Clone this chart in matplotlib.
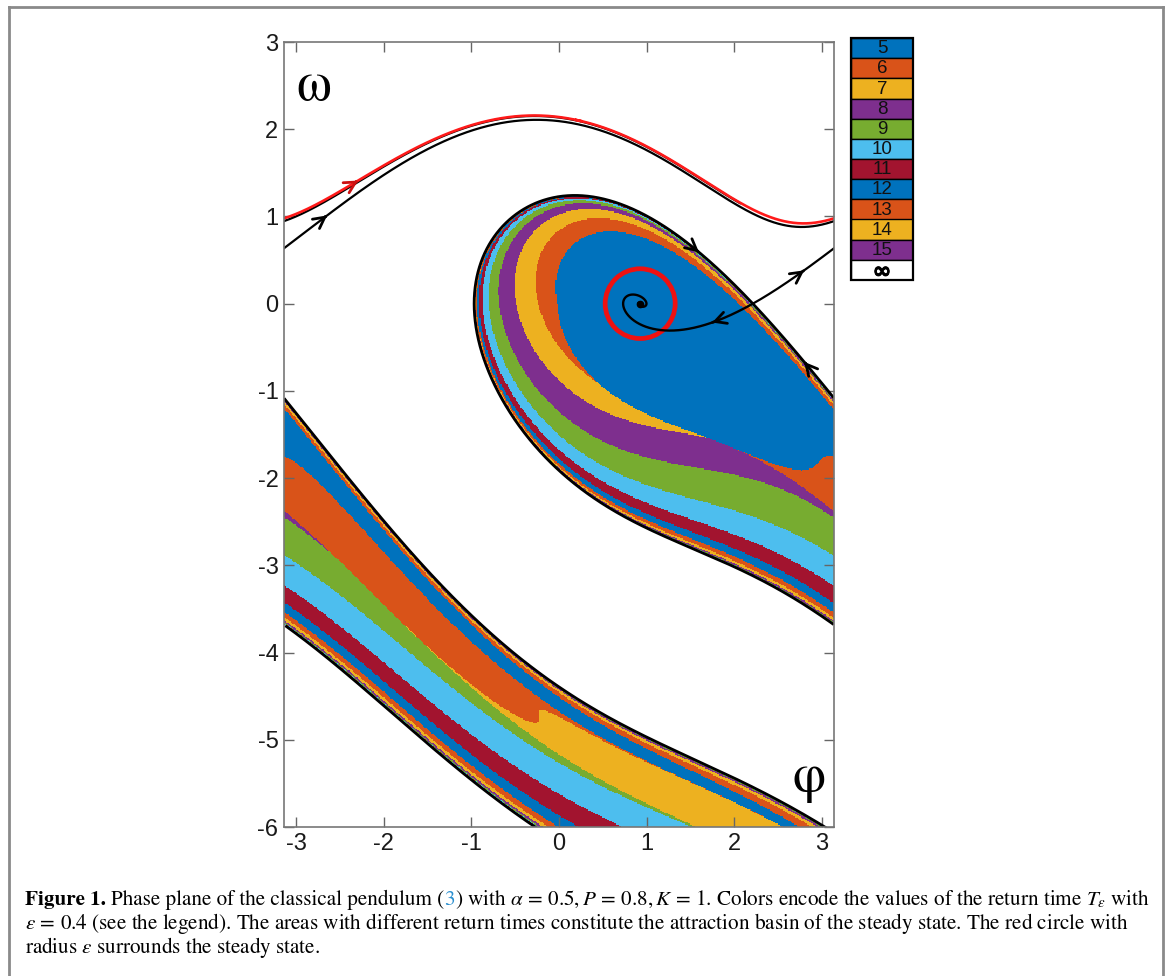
import numpy as np
import matplotlib
matplotlib.use("Agg")
import matplotlib.pyplot as plt
import matplotlib.patheffects as pe
from matplotlib.colors import ListedColormap
from matplotlib.patches import Rectangle
from matplotlib.lines import Line2D

# ---------------- data / parameters ----------------
ALPHA = 0.5          # damping
P_TORQUE = 0.8       # constant torque P
K_COUP = 1.0         # K
EPS = 0.4            # radius of the return circle
T_LABELS = ["5", "6", "7", "8", "9", "10", "11", "12", "13", "14", "15", "\u221e"]
T_FIRST = 5
T_MAX = 30.0
BASE_COLORS = ["#0072BD", "#D95319", "#EDB120", "#7E2F8E", "#77AC30", "#4DBEEE", "#A2142F"]
LEGEND_COLORS = [BASE_COLORS[i % 7] for i in range(len(T_LABELS) - 1)] + ["#FFFFFF"]
X_TICKS = [-3, -2, -1, 0, 1, 2, 3]
Y_TICKS = [-6, -5, -4, -3, -2, -1, 0, 1, 2, 3]
X_LIM = (-np.pi, np.pi)
Y_LIM = (-6.0, 3.0)

PHI_S = np.arcsin(P_TORQUE / K_COUP)       # steady state
PHI_SAD = np.pi - PHI_S                    # saddle


def rhs(ph, om):
    return om, P_TORQUE - ALPHA * om - K_COUP * np.sin(ph)


def rk4(ph, om, dt):
    k1p, k1o = rhs(ph, om)
    k2p, k2o = rhs(ph + 0.5 * dt * k1p, om + 0.5 * dt * k1o)
    k3p, k3o = rhs(ph + 0.5 * dt * k2p, om + 0.5 * dt * k2o)
    k4p, k4o = rhs(ph + dt * k3p, om + dt * k3o)
    return (ph + dt / 6 * (k1p + 2 * k2p + 2 * k3p + k4p),
            om + dt / 6 * (k1o + 2 * k2o + 2 * k3o + k4o))


def wrapd(x):
    return (x + np.pi) % (2 * np.pi) - np.pi


# ---------------- return-time field ----------------
NX, NY = 470, 672
xs = np.linspace(X_LIM[0], X_LIM[1], NX)
ys = np.linspace(Y_LIM[0], Y_LIM[1], NY)
PH, OM = np.meshgrid(xs, ys)
ph = PH.ravel().copy()
om = OM.ravel().copy()
idx = np.arange(ph.size)
T = np.full(ph.size, np.inf)
dt = 0.05
t = 0.0
eps2 = EPS ** 2
while t <= T_MAX and idx.size:
    d2 = wrapd(ph - PHI_S) ** 2 + om ** 2
    done = d2 < eps2
    if done.any():
        T[idx[done]] = t
        keep = ~done
        idx, ph, om = idx[keep], ph[keep], om[keep]
    ph, om = rk4(ph, om, dt)
    t += dt

cat = np.full(T.size, 7, dtype=int)
fin = np.isfinite(T)
k = np.maximum(T_FIRST, np.ceil(T[fin] - 1e-9)).astype(int)
cat[fin] = (k - T_FIRST) % 7
cat = cat.reshape(PH.shape)
cmap = ListedColormap(BASE_COLORS + ["#FFFFFF"])


# ---------------- invariant curves ----------------
def path(p0, w0, dt, n, ylow=None):
    p = np.empty(n + 1); w = np.empty(n + 1)
    p[0], w[0] = p0, w0
    a, b = p0, w0
    m = n
    for i in range(n):
        a, b = rk4(a, b, dt)
        p[i + 1], w[i + 1] = a, b
        if ylow is not None and b < ylow:
            m = i + 1
            break
    return p[:m + 1], w[:m + 1]


def broken(p, w):
    pw = wrapd(p)
    jumps = np.where(np.abs(np.diff(pw)) > np.pi)[0]
    pw2 = np.insert(pw, jumps + 1, np.nan)
    w2 = np.insert(w, jumps + 1, np.nan)
    return pw2, w2


cs = -K_COUP * np.cos(PHI_SAD)
lam_u = (-ALPHA + np.sqrt(ALPHA ** 2 + 4 * cs)) / 2
lam_s = (-ALPHA - np.sqrt(ALPHA ** 2 + 4 * cs)) / 2
vu = np.array([1, lam_u]) / np.hypot(1, lam_u)
vs = np.array([1, lam_s]) / np.hypot(1, lam_s)
dl = 1e-6
hdt = 0.005
# stable manifold (backward in time)
s1p, s1w = path(PHI_SAD + dl * vs[0], dl * vs[1], -hdt, 8000, ylow=-6.8)
s2p, s2w = path(PHI_SAD - dl * vs[0], -dl * vs[1], -hdt, 8000, ylow=-6.8)
# unstable manifold (forward)
u1p, u1w = path(PHI_SAD + dl * vu[0], dl * vu[1], hdt, 6400)
u2p, u2w = path(PHI_SAD - dl * vu[0], -dl * vu[1], hdt, 9000)
# limit cycle
lp, lw_ = path(u1p[-1], u1w[-1], 0.01, 8000)
a0 = lp[-1]
cp = [a0]; cw = [lw_[-1]]
a, b = lp[-1], lw_[-1]
while a < a0 + 2 * np.pi + 0.05:
    a, b = rk4(a, b, 0.005)
    cp.append(a); cw.append(b)
cp = np.array(cp); cw = np.array(cw)

# ---------------- figure ----------------
W, H = 1171, 976
fig = plt.figure(figsize=(W / 100, H / 100), dpi=100)
ax = fig.add_axes([284 / W, 1 - 827 / H, (834 - 284) / W, (827 - 42) / H])
ax.imshow(cat, origin="lower", extent=[X_LIM[0], X_LIM[1], Y_LIM[0], Y_LIM[1]],
          cmap=cmap, vmin=-0.5, vmax=7.5, interpolation="nearest", aspect="auto")

for (p, w) in [(s1p, s1w), (s2p, s2w)]:
    bp, bw = broken(p, w)
    ax.plot(bp, bw, color="k", lw=2.0, solid_capstyle="butt")
bp, bw = broken(u2p, u2w)
ax.plot(bp, bw, color="k", lw=1.7)
bp, bw = broken(u1p, u1w)
ax.plot(bp, bw, color="k", lw=1.6)
bp, bw = broken(cp, cw)
ax.plot(bp, bw, color="#ff1a1a", lw=1.9)
ax.plot([PHI_S], [0], "o", color="k", ms=4.5)
ax.add_patch(plt.Circle((PHI_S, 0), EPS, fill=False, color="#ee1111", lw=3.4))


def chevron(p, w, i, back=False, color="k"):
    pw = wrapd(p)
    j0, j1 = (i + 4, i) if back else (i - 4, i)
    ax.annotate("", xy=(pw[j1], w[j1]), xytext=(pw[j0], w[j0]),
                arrowprops=dict(arrowstyle="->,head_length=0.8,head_width=0.42",
                                color=color, lw=2.0, shrinkA=0, shrinkB=0))


def first_cross(p, target, start=0, decreasing=False):
    pw = wrapd(p)
    for i in range(max(start, 1), len(pw)):
        if decreasing and pw[i - 1] > target >= pw[i]:
            return i
        if (not decreasing) and pw[i - 1] < target <= pw[i]:
            return i
    return len(pw) - 1


# arrows
i = first_cross(u1p, 2.8)
chevron(u1p, u1w, i)
wrap_i = np.where(np.abs(np.diff(wrapd(u1p))) > np.pi)[0][0] + 1
i = first_cross(u1p, -2.65, start=wrap_i + 2)
chevron(u1p, u1w, i)
i = first_cross(u2p, 1.75, decreasing=True)
chevron(u2p, u2w, i)
i = first_cross(s1p, 2.8)
chevron(s1p, s1w, i, back=True)
i = first_cross(s2p, 1.6, decreasing=True)
chevron(s2p, s2w, i, back=True)
i = first_cross(cp, -2.3, start=5)
chevron(cp, cw, i, color="#cc1111")

ax.set_xlim(*X_LIM)
ax.set_ylim(*Y_LIM)
ax.set_xticks(X_TICKS)
ax.set_yticks(Y_TICKS)
ax.set_xticklabels([str(v) for v in X_TICKS])
ax.set_yticklabels([str(v) for v in Y_TICKS])
ax.tick_params(direction="in", length=7, width=1, color="#666666", top=True, right=True,
               labelsize=17, labelcolor="#1a1a1a", pad=4)
for lab in ax.get_xticklabels() + ax.get_yticklabels():
    lab.set_family("Liberation Sans")
for s in ax.spines.values():
    s.set_color("#777777")
    s.set_linewidth(1.2)

ax.text(0.022, 0.975, "\u03c9", transform=ax.transAxes, ha="left", va="top",
        fontsize=40, family="STIXGeneral")
ax.text(0.985, 0.03, "\u03c6", transform=ax.transAxes, ha="right", va="bottom",
        fontsize=38, family="STIXGeneral")

# legend (discrete colour key)
lax = fig.add_axes([851 / W, 1 - 280 / H, 62 / W, 242 / H])
n = len(T_LABELS)
for j, (lab, col) in enumerate(zip(T_LABELS, LEGEND_COLORS)):
    y0 = n - 1 - j
    lax.bar(0, 1, bottom=y0, width=1, color=col, edgecolor="k", linewidth=1.0)
    if lab == "\u221e":
        lax.text(0, y0 + 0.5, lab, ha="center", va="center_baseline", fontsize=16,
                 fontweight="bold", family="DejaVu Sans",
                 path_effects=[pe.withStroke(linewidth=0.7, foreground="k")])
    else:
        lax.text(0, y0 + 0.47, lab, ha="center", va="center", fontsize=13.5,
                 family="Liberation Sans", color="#111111")
lax.set_xlim(-0.5, 0.5)
lax.set_ylim(0, n)
lax.axis("off")
lax.add_patch(Rectangle((-0.5, 0), 1, n, fill=False, edgecolor="k", lw=1.6, clip_on=False))

# outer frame
fig.add_artist(Line2D([9 / W, 9 / W], [0, 1 - 7 / H], color="#8a8a8a", lw=2, transform=fig.transFigure))
fig.add_artist(Line2D([9 / W, 1163 / W], [1 - 7 / H, 1 - 7 / H], color="#8a8a8a", lw=2, transform=fig.transFigure))
fig.add_artist(Line2D([1163 / W, 1163 / W], [0, 1 - 7 / H], color="#8a8a8a", lw=2, transform=fig.transFigure))

# caption
plt.rcParams["mathtext.fontset"] = "stix"
renderer = fig.canvas.get_renderer()
CAP_FAMILY = "STIXGeneral"

line1 = [("Figure 1.", dict(fontweight="bold")), (" ", {}),
         ("Phase plane of the classical pendulum (", {}), ("3", dict(color="#2a8fd0")),
         (r") with $\alpha\,=\,0.5, P\,=\,0.8, K\,=\,1$. Colors encode the values of the return time $T_\varepsilon$ with", {})]
line2 = [(r"$\varepsilon\,=\,0.4$ (see the legend). The areas with different return times constitute the attraction basin of the steady state. The red circle with", {})]
line3 = [(r"radius $\varepsilon$ surrounds the steady state.", {})]


def draw_line(segs, x0, yb, size):
    arts = []
    x = x0
    for s, kw in segs:
        if s == " ":
            tmp1 = fig.text(0, 0, "a a", fontsize=size, family=CAP_FAMILY)
            tmp2 = fig.text(0, 0, "aa", fontsize=size, family=CAP_FAMILY)
            x += tmp1.get_window_extent(renderer).width - tmp2.get_window_extent(renderer).width
            tmp1.remove(); tmp2.remove()
            continue
        tx = fig.text(x / W, 1 - yb / H, s, fontsize=size, family=CAP_FAMILY,
                      ha="left", va="baseline", **kw)
        arts.append(tx)
        x += tx.get_window_extent(renderer).width
    return arts, x


arts, xe = draw_line(line1, 25, 905, 12)
size = 12 * (1150 - 25) / (xe - 25)
for a_ in arts:
    a_.remove()
draw_line(line1, 25, 905, size)
draw_line(line2, 25, 929, size)
draw_line(line3, 25, 953, size)

fig.savefig("out.png", dpi=100)
